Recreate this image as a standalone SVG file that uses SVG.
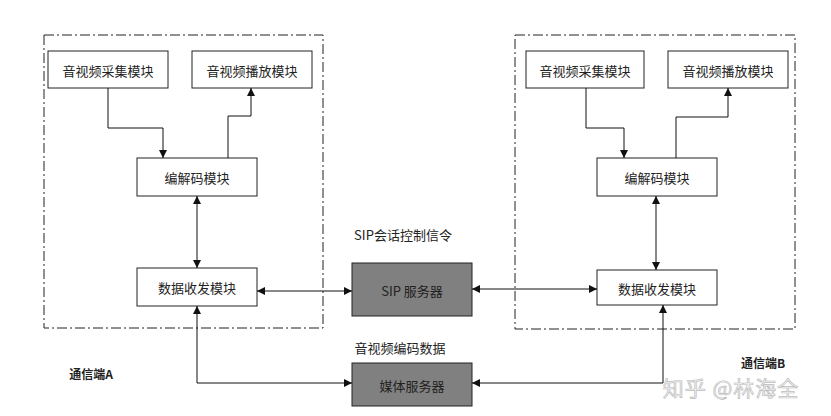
<svg xmlns="http://www.w3.org/2000/svg" width="831" height="416" viewBox="0 0 831 416">
<style>
text{font-family:"Noto Sans CJK SC","Liberation Sans",sans-serif;font-size:13px;fill:#222;text-anchor:middle;dominant-baseline:central}
.box{fill:#fff;stroke:#222;stroke-width:1}
.srv{fill:#808080;stroke:#222;stroke-width:1}
.frame{fill:none;stroke:#222;stroke-width:1;stroke-dasharray:10 3 2 3}
.ln{fill:none;stroke:#111;stroke-width:1}
.b{font-weight:bold;font-size:12px}
.wm{font-size:21px;fill:#f2f2f2;stroke:#bdbdbd;stroke-width:0.7;letter-spacing:1px}
</style>
<defs>
<marker id="ah" viewBox="0 0 10 10" refX="10" refY="5" markerWidth="8" markerHeight="8" markerUnits="userSpaceOnUse" orient="auto-start-reverse">
<path d="M0,0 L10,5 L0,10 z" fill="#111"/>
</marker>
</defs>
<rect width="831" height="416" fill="#fff"/>
<g id="frameA"><rect class="frame" x="44" y="35" width="279" height="293"/></g>
<g id="frameB"><rect class="frame" x="515" y="35" width="280" height="294"/></g>
<g id="a-capture"><rect class="box" x="48" y="51" width="120" height="37"/><text x="108" y="70">音视频采集模块</text></g>
<g id="a-play"><rect class="box" x="192" y="51" width="120" height="37"/><text x="252" y="70">音视频播放模块</text></g>
<g id="a-codec"><rect class="box" x="137" y="158" width="120" height="38"/><text x="197" y="177">编解码模块</text></g>
<g id="a-data"><rect class="box" x="137" y="268" width="120" height="38"/><text x="197" y="287">数据收发模块</text></g>
<g id="b-capture"><rect class="box" x="526" y="51" width="118" height="37"/><text x="585" y="70">音视频采集模块</text></g>
<g id="b-play"><rect class="box" x="668" y="51" width="120" height="37"/><text x="728" y="70">音视频播放模块</text></g>
<g id="b-codec"><rect class="box" x="597" y="158" width="120" height="38"/><text x="657" y="177">编解码模块</text></g>
<g id="b-data"><rect class="box" x="597" y="270" width="120" height="35"/><text x="657" y="288">数据收发模块</text></g>
<g id="sip"><rect class="srv" x="352" y="263" width="120" height="53"/><text x="412" y="290">SIP 服务器</text></g>
<g id="media"><rect class="srv" x="352" y="363" width="120" height="43"/><text x="412" y="385">媒体服务器</text></g>
<g id="labels">
<text x="403" y="234">SIP会话控制信令</text>
<text x="400" y="347">音视频编码数据</text>
<text class="b" x="91" y="373">通信端A</text>
<text class="b" x="763" y="362">通信端B</text>
<text class="wm" x="731" y="387">知乎 @林海全</text>
</g>
<g id="connectors">
<path class="ln" d="M108,88 V128 H163 V158" marker-end="url(#ah)"/>
<path class="ln" d="M228,158 V116 H251 V88" marker-end="url(#ah)"/>
<path class="ln" d="M197,196 V268" marker-start="url(#ah)" marker-end="url(#ah)"/>
<path class="ln" d="M586,88 V128 H624 V158" marker-end="url(#ah)"/>
<path class="ln" d="M676,158 V117 H728 V88" marker-end="url(#ah)"/>
<path class="ln" d="M656,196 V270" marker-start="url(#ah)" marker-end="url(#ah)"/>
<path class="ln" d="M257,291 H352" marker-start="url(#ah)" marker-end="url(#ah)"/>
<path class="ln" d="M472,289 H597" marker-start="url(#ah)" marker-end="url(#ah)"/>
<path class="ln" d="M352,383 H197 V306" marker-start="url(#ah)" marker-end="url(#ah)"/>
<path class="ln" d="M472,383 H663 V305" marker-start="url(#ah)" marker-end="url(#ah)"/>
</g>
</svg>
